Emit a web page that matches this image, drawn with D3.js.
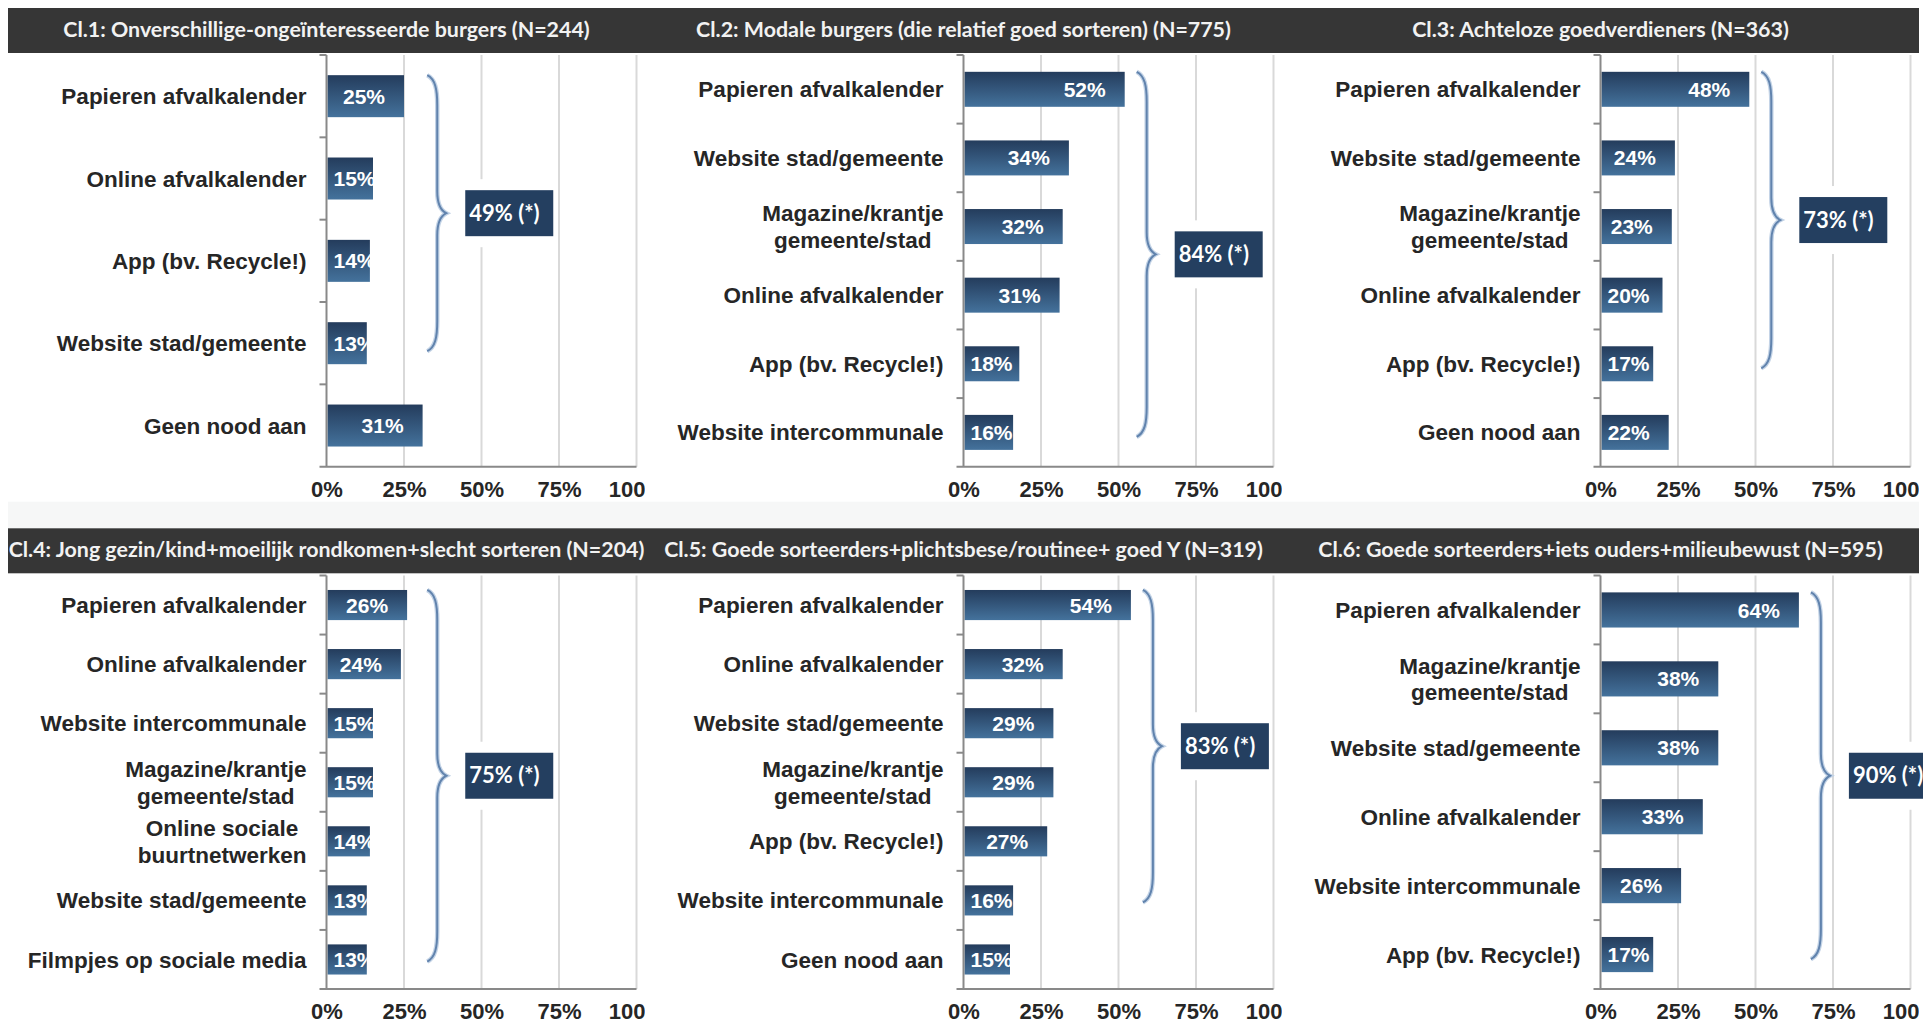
<!DOCTYPE html>
<html>
<head>
<meta charset="utf-8">
<script src="https://cdn.jsdelivr.net/npm/d3@7"></script>
<style>
  body { margin: 0; background: #ffffff; }
  svg { display: block; }
</style>
</head>
<body>
<svg id="chart" width="1923" height="1024"></svg>
<script>
// ---- Data: share of respondents per information channel, per cluster ----
const titleCl1 = "Cl.1: Onverschillige-ongeïnteresseerde burgers (N=244)";
const categoriesCl1 = ["Papieren afvalkalender", "Online afvalkalender", "App (bv. Recycle!)", "Website stad/gemeente", "Geen nood aan"];
const valuesCl1 = [25, 15, 14, 13, 31];
const totalCl1 = 49;

const titleCl2 = "Cl.2: Modale burgers (die relatief goed sorteren) (N=775)";
const categoriesCl2 = ["Papieren afvalkalender", "Website stad/gemeente", "Magazine/krantje\ngemeente/stad", "Online afvalkalender", "App (bv. Recycle!)", "Website intercommunale"];
const valuesCl2 = [52, 34, 32, 31, 18, 16];
const totalCl2 = 84;

const titleCl3 = "Cl.3: Achteloze goedverdieners (N=363)";
const categoriesCl3 = ["Papieren afvalkalender", "Website stad/gemeente", "Magazine/krantje\ngemeente/stad", "Online afvalkalender", "App (bv. Recycle!)", "Geen nood aan"];
const valuesCl3 = [48, 24, 23, 20, 17, 22];
const totalCl3 = 73;

const titleCl4 = "Cl.4: Jong gezin/kind+moeilijk rondkomen+slecht sorteren (N=204)";
const categoriesCl4 = ["Papieren afvalkalender", "Online afvalkalender", "Website intercommunale", "Magazine/krantje\ngemeente/stad", "Online sociale\nbuurtnetwerken", "Website stad/gemeente", "Filmpjes op sociale media"];
const valuesCl4 = [26, 24, 15, 15, 14, 13, 13];
const totalCl4 = 75;

const titleCl5 = "Cl.5: Goede sorteerders+plichtsbese/routinee+ goed Y (N=319)";
const categoriesCl5 = ["Papieren afvalkalender", "Online afvalkalender", "Website stad/gemeente", "Magazine/krantje\ngemeente/stad", "App (bv. Recycle!)", "Website intercommunale", "Geen nood aan"];
const valuesCl5 = [54, 32, 29, 29, 27, 16, 15];
const totalCl5 = 83;

const titleCl6 = "Cl.6: Goede sorteerders+iets ouders+milieubewust (N=595)";
const categoriesCl6 = ["Papieren afvalkalender", "Magazine/krantje\ngemeente/stad", "Website stad/gemeente", "Online afvalkalender", "Website intercommunale", "App (bv. Recycle!)"];
const valuesCl6 = [64, 38, 38, 33, 26, 17];
const totalCl6 = 90;

const axisTicks = [0, 25, 50, 75, 100];
const excludedFromTotal = "Geen nood aan";

const panels = [
  { title: titleCl1, cats: categoriesCl1, vals: valuesCl1, total: totalCl1 },
  { title: titleCl2, cats: categoriesCl2, vals: valuesCl2, total: totalCl2 },
  { title: titleCl3, cats: categoriesCl3, vals: valuesCl3, total: totalCl3 },
  { title: titleCl4, cats: categoriesCl4, vals: valuesCl4, total: totalCl4 },
  { title: titleCl5, cats: categoriesCl5, vals: valuesCl5, total: totalCl5 },
  { title: titleCl6, cats: categoriesCl6, vals: valuesCl6, total: totalCl6 }
];

// ---- Layout ----
const svg = d3.select("#chart");
const colLeft = 8, colWidth = 637, axisOffset = 318.5, scaleWidth = 310;
const rows = [
  { barTop: 8, plotTop: 55, plotBottom: 466.7 },
  { barTop: 528.3, plotTop: 575.5, plotBottom: 989 }
];
const titleH = 45;
const labelFont = "'Liberation Sans', Arial, sans-serif";
const titleFont = "Lato, 'Open Sans', sans-serif";
const textDark = "#262626";

const defs = svg.append("defs");
const grad = defs.append("linearGradient")
  .attr("id", "barGrad").attr("x1", 0).attr("y1", 0).attr("x2", 0).attr("y2", 1);
grad.append("stop").attr("offset", "0%").attr("stop-color", "#243c5c");
grad.append("stop").attr("offset", "100%").attr("stop-color", "#44729c");

// light band separating the two rows
svg.append("rect")
  .attr("x", colLeft).attr("y", 501.7).attr("width", 1911).attr("height", 26.6)
  .attr("fill", "#f6f7f7");

// dark header strips
rows.forEach(r => {
  svg.append("rect")
    .attr("x", colLeft).attr("y", r.barTop).attr("width", 1911).attr("height", titleH)
    .attr("fill", "#363636");
});

panels.forEach((p, i) => {
  const row = rows[Math.floor(i / 3)];
  const col = i % 3;
  const left = colLeft + col * colWidth;
  const axisX = left + axisOffset;
  const right = col === 2 ? 1919 : left + colWidth;

  const x = d3.scaleLinear().domain([0, 100]).range([axisX, axisX + scaleWidth]);
  const y = d3.scaleBand().domain(p.cats).range([row.plotTop, row.plotBottom])
    .paddingInner(0.49).paddingOuter(0.245);
  const step = y.step();

  const clipId = "panelClip" + i;
  defs.append("clipPath").attr("id", clipId)
    .append("rect").attr("x", left).attr("y", 0).attr("width", right - left).attr("height", 1024);

  const g = svg.append("g");

  // title
  g.append("text")
    .attr("x", axisX).attr("y", row.barTop + 29)
    .attr("text-anchor", "middle")
    .attr("font-family", titleFont).attr("font-weight", 700).attr("font-size", 21.4)
    .attr("fill", "#f2f2f2")
    .text(p.title);

  // vertical gridlines
  g.selectAll("line.grid").data(axisTicks.filter(t => t > 0)).enter().append("line")
    .attr("x1", d => x(d)).attr("x2", d => x(d))
    .attr("y1", row.plotTop).attr("y2", row.plotBottom)
    .attr("stroke", "#d9d9d9").attr("stroke-width", 2);

  // bottom tick labels
  const xAxis = d3.axisBottom(x).tickValues(axisTicks).tickFormat(d => d + "%").tickSize(0).tickPadding(0);
  const xg = g.append("g")
    .attr("clip-path", `url(#${clipId})`)
    .attr("transform", `translate(0,${row.plotBottom})`)
    .call(xAxis);
  xg.select(".domain").remove();
  xg.selectAll("text")
    .attr("y", 30).attr("dy", null)
    .attr("font-family", labelFont).attr("font-weight", 700).attr("font-size", 22)
    .attr("fill", textDark);

  // total box (white halo hides gridlines behind it)
  const included = p.cats.map((c, k) => ({ c, v: p.vals[k] })).filter(d => d.c !== excludedFromTotal);
  const braceTop = y(included[0].c);
  const braceBottom = y(included[included.length - 1].c) + y.bandwidth() - 13;
  const braceMid = (braceTop + braceBottom) / 2;
  const bx0 = Math.max(x(d3.max(included, d => d.v)) + 12, x(32.5));
  const tipX = bx0 + 19;
  const boxX = tipX + 19, boxW = 88, boxH = 46;
  g.append("rect")
    .attr("x", boxX - 3).attr("y", braceMid - boxH / 2 - 11)
    .attr("width", boxW + 6).attr("height", boxH + 22).attr("fill", "#ffffff");
  g.append("rect")
    .attr("x", boxX).attr("y", braceMid - boxH / 2)
    .attr("width", boxW).attr("height", boxH).attr("fill", "#243f60");
  g.append("text")
    .attr("x", boxX + 4).attr("y", braceMid + 7.5)
    .attr("font-family", titleFont).attr("font-weight", 700).attr("font-size", 22)
    .attr("fill", "#ffffff")
    .text(p.total + "% (*)");

  // curly brace grouping all channels
  const lx = bx0 + 10;
  const bracePath = d3.path();
  bracePath.moveTo(bx0, braceTop);
  bracePath.bezierCurveTo(lx - 2, braceTop + 4, lx, braceTop + 14, lx, braceTop + 30);
  bracePath.lineTo(lx, braceMid - 22);
  bracePath.bezierCurveTo(lx, braceMid - 8, tipX - 4, braceMid - 2, tipX, braceMid);
  bracePath.bezierCurveTo(tipX - 4, braceMid + 2, lx, braceMid + 8, lx, braceMid + 22);
  bracePath.lineTo(lx, braceBottom - 30);
  bracePath.bezierCurveTo(lx, braceBottom - 14, lx - 2, braceBottom - 4, bx0, braceBottom);
  g.append("path").attr("d", bracePath.toString())
    .attr("fill", "none").attr("stroke", "#c3d3e6").attr("stroke-width", 4.5);
  g.append("path").attr("d", bracePath.toString())
    .attr("fill", "none").attr("stroke", "#6183ad").attr("stroke-width", 2);

  // bars
  const data = p.cats.map((c, k) => ({ c, v: p.vals[k], k }));
  g.selectAll("rect.bar").data(data).enter().append("rect")
    .attr("x", x(0) + 1).attr("y", d => y(d.c))
    .attr("width", d => x(d.v) - x(0) - 1).attr("height", y.bandwidth())
    .attr("fill", "url(#barGrad)");

  // value labels, kept inside their bar
  data.forEach(d => {
    const cid = `barClip${i}_${d.k}`;
    defs.append("clipPath").attr("id", cid)
      .append("rect").attr("x", x(0) + 1).attr("y", y(d.c))
      .attr("width", x(d.v) - x(0) - 1).attr("height", y.bandwidth());
    const t = g.append("text")
      .attr("clip-path", `url(#${cid})`)
      .attr("y", y(d.c) + y.bandwidth() / 2).attr("dy", "0.36em")
      .attr("font-family", labelFont).attr("font-weight", 700).attr("font-size", 21)
      .attr("fill", "#ffffff")
      .text(d.v + "%");
    const w = t.node().getComputedTextLength();
    const lx0 = Math.max(x(d.v) - 19 - w, x(0) + 7);
    t.attr("x", lx0);
  });

  // axis lines and category ticks
  g.append("line")
    .attr("x1", x(0)).attr("x2", x(0)).attr("y1", row.plotTop).attr("y2", row.plotBottom)
    .attr("stroke", "#898989").attr("stroke-width", 2);
  g.append("line")
    .attr("x1", x(0) - 7).attr("x2", x(100)).attr("y1", row.plotBottom).attr("y2", row.plotBottom)
    .attr("stroke", "#898989").attr("stroke-width", 2);
  g.selectAll("line.ytick").data(d3.range(p.cats.length)).enter().append("line")
    .attr("x1", x(0) - 7).attr("x2", x(0))
    .attr("y1", k => row.plotTop + k * step).attr("y2", k => row.plotTop + k * step)
    .attr("stroke", "#898989").attr("stroke-width", 2);

  // category labels (multi-line ones centred on each other, block right-aligned)
  const labelRight = x(0) - 20;
  data.forEach(d => {
    const lines = d.c.split("\n");
    const cy = y(d.c) + y.bandwidth() / 2;
    const lineH = 26.7;
    const t = g.append("text")
      .attr("font-family", labelFont).attr("font-weight", 700).attr("font-size", 22.5)
      .attr("fill", textDark);
    const spans = lines.map((ln, j) => t.append("tspan")
      .attr("y", cy + (j - (lines.length - 1) / 2) * lineH).attr("dy", "0.36em").text(ln));
    const widths = spans.map(s => s.node().getComputedTextLength());
    const blockW = d3.max(widths);
    if (lines.length === 1) {
      t.attr("text-anchor", "end");
      spans[0].attr("x", labelRight);
    } else {
      t.attr("text-anchor", "middle");
      spans.forEach(s => s.attr("x", labelRight - blockW / 2));
    }
  });
});
</script>
</body>
</html>
